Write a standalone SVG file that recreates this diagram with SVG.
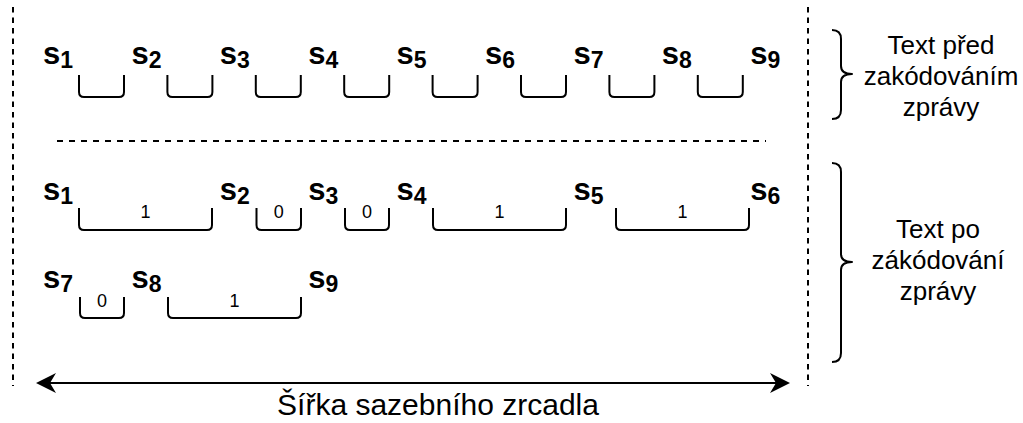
<svg xmlns="http://www.w3.org/2000/svg" width="1023" height="423" viewBox="0 0 1023 423">
  <style>
    .sym { font-family: "Liberation Sans", Arial, sans-serif; font-weight: bold; font-size: 31px; fill: #000; }
    .sym .idx { font-size: 23px; }
    .bit { font-family: "Liberation Sans", Arial, sans-serif; font-size: 18px; fill: #000; text-anchor: middle; }
    .note { font-family: "Liberation Sans", Arial, sans-serif; font-size: 26px; fill: #000; text-anchor: middle; }
    .caption { font-family: "Liberation Sans", Arial, sans-serif; font-size: 30px; fill: #000; text-anchor: middle; }
    .br { fill: none; stroke: #000; stroke-width: 2; stroke-linejoin: round; }
    .guide { fill: none; stroke: #000; stroke-width: 2; stroke-dasharray: 5.5 5; }
    .sep { fill: none; stroke: #000; stroke-width: 2; stroke-dasharray: 6 6; }
    .dim { fill: none; stroke: #000; stroke-width: 2; }
  </style>
  <defs>
    <marker id="arrow" viewBox="0 0 20 20" refX="14" refY="10" markerWidth="20" markerHeight="20" markerUnits="userSpaceOnUse" orient="auto-start-reverse">
      <path d="M0,0 L20,10 L0,20 L6,10 Z" fill="#000"/>
    </marker>
  </defs>

  <!-- page margins and row separator -->
  <g id="guides">
    <line class="guide" x1="13" y1="7" x2="13" y2="386"/>
    <line class="guide" x1="808" y1="7" x2="808" y2="386"/>
    <line class="sep" x1="57" y1="141" x2="766" y2="141"/>
  </g>

  <!-- text before encoding -->
  <g id="row-before">
    <g id="b-s1"><text class="sym" x="43" y="64">s<tspan class="idx" dy="4">1</tspan></text></g>
    <g id="b-s2"><text class="sym" x="131.4" y="64">s<tspan class="idx" dy="4">2</tspan></text></g>
    <g id="b-s3"><text class="sym" x="219.8" y="64">s<tspan class="idx" dy="4">3</tspan></text></g>
    <g id="b-s4"><text class="sym" x="308.2" y="64">s<tspan class="idx" dy="4">4</tspan></text></g>
    <g id="b-s5"><text class="sym" x="396.6" y="64">s<tspan class="idx" dy="4">5</tspan></text></g>
    <g id="b-s6"><text class="sym" x="485" y="64">s<tspan class="idx" dy="4">6</tspan></text></g>
    <g id="b-s7"><text class="sym" x="573.4" y="64">s<tspan class="idx" dy="4">7</tspan></text></g>
    <g id="b-s8"><text class="sym" x="661.8" y="64">s<tspan class="idx" dy="4">8</tspan></text></g>
    <g id="b-s9"><text class="sym" x="750.2" y="64">s<tspan class="idx" dy="4">9</tspan></text></g>
    <g id="b-gaps">
      <path class="br" d="M79,75 V92 Q79,97 84,97 H119 Q124,97 124,92 V75"/>
      <path class="br" d="M167.4,75 V92 Q167.4,97 172.4,97 H207.4 Q212.4,97 212.4,92 V75"/>
      <path class="br" d="M255.8,75 V92 Q255.8,97 260.8,97 H295.8 Q300.8,97 300.8,92 V75"/>
      <path class="br" d="M344.2,75 V92 Q344.2,97 349.2,97 H384.2 Q389.2,97 389.2,92 V75"/>
      <path class="br" d="M432.6,75 V92 Q432.6,97 437.6,97 H472.6 Q477.6,97 477.6,92 V75"/>
      <path class="br" d="M521,75 V92 Q521,97 526,97 H561 Q566,97 566,92 V75"/>
      <path class="br" d="M609.4,75 V92 Q609.4,97 614.4,97 H649.4 Q654.4,97 654.4,92 V75"/>
      <path class="br" d="M697.8,75 V92 Q697.8,97 702.8,97 H737.8 Q742.8,97 742.8,92 V75"/>
    </g>
  </g>

  <!-- text after encoding, first line -->
  <g id="row-after-1">
    <g id="a-s1"><text class="sym" x="43" y="200">s<tspan class="idx" dy="4">1</tspan></text></g>
    <g id="a-s2"><text class="sym" x="219.8" y="200">s<tspan class="idx" dy="4">2</tspan></text></g>
    <g id="a-s3"><text class="sym" x="308.2" y="200">s<tspan class="idx" dy="4">3</tspan></text></g>
    <g id="a-s4"><text class="sym" x="396.6" y="200">s<tspan class="idx" dy="4">4</tspan></text></g>
    <g id="a-s5"><text class="sym" x="573.4" y="200">s<tspan class="idx" dy="4">5</tspan></text></g>
    <g id="a-s6"><text class="sym" x="750.2" y="200">s<tspan class="idx" dy="4">6</tspan></text></g>
    <g id="a-gap1">
      <path class="br" d="M79,208 V225 Q79,230 84,230 H207 Q212,230 212,225 V208"/>
      <text class="bit" x="145.5" y="218">1</text>
    </g>
    <g id="a-gap2">
      <path class="br" d="M256.5,208 V225 Q256.5,230 261.5,230 H296 Q301,230 301,225 V208"/>
      <text class="bit" x="278.7" y="218">0</text>
    </g>
    <g id="a-gap3">
      <path class="br" d="M345,208 V225 Q345,230 350,230 H384 Q389,230 389,225 V208"/>
      <text class="bit" x="367" y="218">0</text>
    </g>
    <g id="a-gap4">
      <path class="br" d="M433,208 V225 Q433,230 438,230 H561 Q566,230 566,225 V208"/>
      <text class="bit" x="499.5" y="218">1</text>
    </g>
    <g id="a-gap5">
      <path class="br" d="M616,208 V225 Q616,230 621,230 H744 Q749,230 749,225 V208"/>
      <text class="bit" x="682.5" y="218">1</text>
    </g>
  </g>

  <!-- text after encoding, second line -->
  <g id="row-after-2">
    <g id="a-s7"><text class="sym" x="43" y="288">s<tspan class="idx" dy="4">7</tspan></text></g>
    <g id="a-s8"><text class="sym" x="131.4" y="288">s<tspan class="idx" dy="4">8</tspan></text></g>
    <g id="a-s9"><text class="sym" x="308.2" y="288">s<tspan class="idx" dy="4">9</tspan></text></g>
    <g id="a-gap6">
      <path class="br" d="M80,297 V313 Q80,318 85,318 H119 Q124,318 124,313 V297"/>
      <text class="bit" x="102" y="307">0</text>
    </g>
    <g id="a-gap7">
      <path class="br" d="M168,297 V313 Q168,318 173,318 H296 Q301,318 301,313 V297"/>
      <text class="bit" x="234.5" y="307">1</text>
    </g>
  </g>

  <!-- braces with their descriptions -->
  <g id="brace-before">
    <path class="br" d="M832,30 Q841,30 841,39 V66 Q841,74 852,74 Q841,74 841,82 V110 Q841,119 832,119"/>
    <text class="note" x="941" y="54">Text před</text>
    <text class="note" x="941" y="85">zakódováním</text>
    <text class="note" x="941" y="116">zprávy</text>
  </g>
  <g id="brace-after">
    <path class="br" d="M832,163 Q841,163 841,172 V254 Q841,262 852,262 Q841,262 841,270 V353 Q841,362 832,362"/>
    <text class="note" x="938" y="238">Text po</text>
    <text class="note" x="938" y="269">zákódování</text>
    <text class="note" x="938" y="300">zprávy</text>
  </g>

  <!-- width dimension -->
  <g id="connectors">
    <line class="dim" x1="42" y1="383" x2="784" y2="383" marker-start="url(#arrow)" marker-end="url(#arrow)"/>
  </g>
  <g id="width-label">
    <text class="caption" x="438" y="415">Šířka sazebního zrcadla</text>
  </g>
</svg>
